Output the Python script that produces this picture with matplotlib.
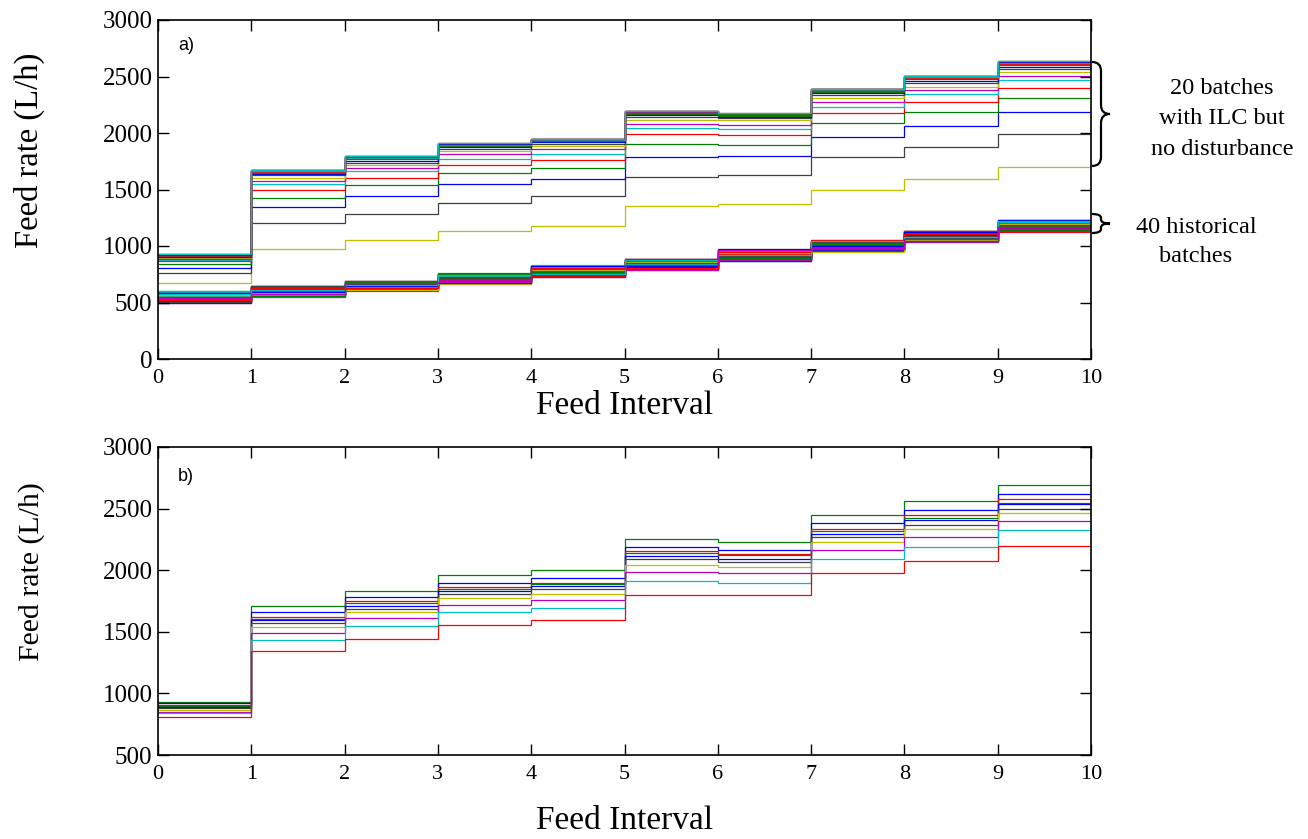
import numpy as np
import matplotlib
matplotlib.use("Agg")
import matplotlib.pyplot as plt
from matplotlib.path import Path
from matplotlib.patches import PathPatch
from matplotlib.transforms import Affine2D

# ---- data -------------------------------------------------------------
feed_intervals = list(range(11))

# 40 historical batches, feed rate (L/h) for intervals 1..10
historical = [
    [512, 566, 618, 688, 741, 801, 904, 975, 1061, 1167],
    [590, 631, 671, 702, 790, 861, 889, 1032, 1094, 1205],
    [537, 597, 655, 739, 760, 812, 946, 1010, 1120, 1148],
    [565, 558, 629, 671, 811, 849, 931, 968, 1049, 1219],
    [498, 621, 684, 726, 752, 874, 882, 1041, 1106, 1180],
    [576, 610, 611, 749, 799, 792, 957, 989, 1071, 1133],
    [523, 644, 662, 694, 733, 829, 912, 1048, 1132, 1196],
    [559, 583, 640, 754, 821, 858, 871, 957, 1040, 1162],
    [601, 575, 688, 715, 768, 836, 940, 1021, 1089, 1228],
    [505, 639, 617, 680, 806, 883, 926, 996, 1115, 1141],
    [547, 604, 676, 745, 745, 807, 967, 1029, 1058, 1210],
    [583, 553, 648, 703, 787, 845, 897, 962, 1125, 1173],
    [529, 626, 607, 732, 826, 787, 951, 1044, 1078, 1131],
    [568, 592, 667, 665, 759, 866, 917, 980, 1036, 1190],
    [495, 647, 633, 721, 796, 822, 876, 1014, 1101, 1224],
    [596, 568, 683, 757, 736, 879, 962, 953, 1068, 1155],
    [541, 613, 622, 689, 814, 803, 908, 1037, 1136, 1201],
    [556, 587, 659, 734, 770, 853, 936, 972, 1052, 1138],
    [515, 635, 690, 709, 727, 886, 887, 1050, 1094, 1215],
    [588, 561, 614, 750, 802, 816, 970, 1003, 1117, 1169],
    [533, 620, 651, 676, 781, 840, 922, 958, 1045, 1232],
    [572, 579, 680, 740, 743, 869, 868, 1025, 1083, 1147],
    [502, 641, 638, 718, 819, 794, 948, 993, 1130, 1186],
    [550, 598, 606, 753, 762, 875, 903, 1046, 1063, 1128],
    [593, 556, 666, 697, 828, 831, 959, 967, 1108, 1208],
    [519, 629, 645, 743, 750, 862, 880, 1018, 1038, 1159],
    [562, 589, 686, 668, 792, 809, 943, 985, 1122, 1193],
    [508, 616, 625, 728, 739, 888, 914, 1039, 1074, 1140],
    [580, 571, 657, 712, 808, 826, 972, 961, 1099, 1222],
    [544, 637, 609, 756, 775, 798, 892, 1008, 1047, 1176],
    [527, 602, 674, 686, 731, 871, 928, 1052, 1133, 1152],
    [598, 564, 634, 737, 816, 843, 955, 976, 1066, 1213],
    [535, 624, 687, 700, 757, 784, 873, 1027, 1112, 1135],
    [570, 581, 615, 747, 785, 856, 939, 951, 1055, 1198],
    [510, 645, 664, 724, 724, 881, 900, 1035, 1091, 1164],
    [585, 594, 643, 673, 823, 818, 966, 998, 1127, 1229],
    [553, 559, 679, 751, 766, 847, 884, 1016, 1042, 1144],
    [520, 632, 628, 706, 803, 805, 944, 970, 1103, 1183],
    [574, 607, 653, 742, 748, 877, 919, 1043, 1080, 1217],
    [540, 577, 669, 683, 794, 834, 963, 983, 1060, 1171],
]

# 20 ILC batches without disturbance
ilc_batches = [
    [675, 970, 1050, 1133, 1177, 1357, 1369, 1493, 1590, 1702],
    [758, 1203, 1286, 1380, 1442, 1607, 1631, 1788, 1880, 1995],
    [803, 1342, 1439, 1549, 1590, 1785, 1797, 1965, 2062, 2189],
    [841, 1422, 1537, 1643, 1690, 1905, 1894, 2091, 2189, 2310],
    [868, 1493, 1604, 1713, 1757, 1995, 1980, 2177, 2271, 2395],
    [878, 1549, 1660, 1770, 1811, 2047, 2032, 2227, 2342, 2466],
    [886, 1579, 1690, 1814, 1858, 2080, 2074, 2271, 2377, 2507],
    [893, 1604, 1713, 1841, 1885, 2115, 2112, 2313, 2409, 2537],
    [900, 1625, 1738, 1862, 1905, 2140, 2131, 2338, 2439, 2567],
    [906, 1640, 1755, 1876, 1918, 2157, 2143, 2354, 2459, 2587],
    [911, 1650, 1767, 1886, 1928, 2169, 2152, 2366, 2474, 2601],
    [915, 1657, 1776, 1893, 1935, 2178, 2159, 2375, 2485, 2612],
    [918, 1662, 1782, 1898, 1940, 2184, 2164, 2381, 2492, 2619],
    [920, 1665, 1787, 1902, 1943, 2188, 2167, 2385, 2497, 2624],
    [922, 1668, 1790, 1904, 1945, 2191, 2169, 2388, 2500, 2628],
    [923, 1670, 1792, 1906, 1947, 2193, 2171, 2390, 2503, 2630],
    [924, 1671, 1794, 1907, 1948, 2195, 2172, 2391, 2505, 2632],
    [925, 1672, 1795, 1908, 1949, 2196, 2172, 2392, 2506, 2633],
    [926, 1673, 1796, 1909, 1950, 2197, 2173, 2393, 2507, 2634],
    [926, 1673, 1796, 1909, 1950, 2197, 2173, 2393, 2507, 2634],
]

# ILC batches with disturbance (panel b)
disturbed_batches = [
    [932, 1710, 1835, 1961, 2002, 2253, 2231, 2445, 2561, 2691],
    [919, 1659, 1786, 1900, 1940, 2191, 2167, 2386, 2485, 2615],
    [905, 1621, 1746, 1864, 1896, 2156, 2129, 2334, 2447, 2575],
    [898, 1605, 1737, 1845, 1886, 2140, 2121, 2318, 2421, 2548],
    [891, 1594, 1710, 1832, 1875, 2115, 2094, 2294, 2404, 2537],
    [878, 1570, 1683, 1805, 1848, 2094, 2064, 2269, 2370, 2499],
    [865, 1543, 1659, 1775, 1810, 2040, 2026, 2232, 2334, 2461],
    [852, 1494, 1608, 1721, 1759, 1989, 1975, 2167, 2269, 2399],
    [838, 1430, 1545, 1659, 1697, 1913, 1896, 2091, 2191, 2323],
    [810, 1343, 1442, 1559, 1594, 1799, 1799, 1977, 2078, 2194],
]

# old MATLAB default line colours: b, g, r, c, m, y, k
color_order = [(0, 0, 1), (0, 0.5, 0), (1, 0, 0), (0, 0.75, 0.75),
               (0.75, 0, 0.75), (0.75, 0.75, 0), (0.25, 0.25, 0.25)]
disturbed_colors = [1, 0, 2, 1, 0, 6, 5, 4, 3, 2]

# ---- figure -----------------------------------------------------------
W, H = 1308, 839
plt.rcParams['font.family'] = ['Liberation Serif', 'DejaVu Serif']
fig = plt.figure(figsize=(W / 100, H / 100), dpi=100)

ax1 = fig.add_axes([158 / W, 1 - 359 / H, (1091 - 158) / W, (359 - 20) / H])
ax2 = fig.add_axes([158 / W, 1 - 755 / H, (1091 - 158) / W, (755 - 447) / H])

k = 0
for row in historical + ilc_batches:
    ax1.stairs(row, feed_intervals, baseline=None,
               color=color_order[k % 7], lw=0.9)
    k += 1

for row, ci in zip(disturbed_batches, disturbed_colors):
    ax2.stairs(row, feed_intervals, baseline=None, color=color_order[ci], lw=0.9)

for ax, ylo in [(ax1, 0), (ax2, 500)]:
    ax.set_xlim(0, 10)
    ax.set_ylim(ylo, 3000)
    ax.set_xticks(range(11))
    ax.set_yticks(range(ylo, 3001, 500))
    ax.tick_params(direction='in', length=8, width=1, top=True, right=True,
                   pad=6)
    ax.tick_params(axis='y', labelsize=18, pad=4)
    ax.tick_params(axis='x', labelsize=16, pad=7)
    for s in ax.spines.values():
        s.set_linewidth(1.2)

ax1.set_ylabel('Feed rate (L/h)', fontsize=23.5)
ax1.yaxis.set_label_coords(-0.121, 0.617)
ax2.set_ylabel('Feed rate (L/h)', fontsize=21.5)
ax2.yaxis.set_label_coords(-0.121, 0.594)

ax1.set_xlabel('Feed Interval', fontsize=24, labelpad=2)
ax2.set_xlabel('Feed Interval', fontsize=24, labelpad=16)

ax1.text(0.022, 0.95, 'a)', transform=ax1.transAxes, fontsize=13,
         family='Liberation Sans', va='top')
ax2.text(0.021, 0.932, 'b)', transform=ax2.transAxes, fontsize=13,
         family='Liberation Sans', va='top')

# ---- braces and notes on the right --------------------------------------
px = Affine2D().scale(1 / W, -1 / H).translate(0, 1) + fig.transFigure


def brace(y0, y1, r, xb=1092, xm=1101, xt=1110):
    ym = (y0 + y1) / 2
    verts = [(xb, y0), (xm, y0), (xm, y0 + r),
             (xm, ym - r), (xm, ym), (xt, ym),
             (xm, ym), (xm, ym + r),
             (xm, y1 - r), (xm, y1), (xb, y1)]
    codes = [Path.MOVETO, Path.CURVE3, Path.CURVE3,
             Path.LINETO, Path.CURVE3, Path.CURVE3,
             Path.CURVE3, Path.CURVE3,
             Path.LINETO, Path.CURVE3, Path.CURVE3]
    patch = PathPatch(Path(verts, codes), fill=False, lw=1.6, color='black',
                      transform=px, clip_on=False)
    fig.add_artist(patch)


brace(62, 166, 9)
brace(214, 233, 4)

fig.text(1222 / W, 1 - 119 / H, '20 batches\nwith ILC but\nno disturbance',
         ha='center', va='center', fontsize=17.5, linespacing=1.6)
fig.text(1196 / W, 1 - 242 / H, '40 historical\nbatches',
         ha='center', va='center', fontsize=17.5, linespacing=1.5)

fig.savefig('out.png', dpi=100)
